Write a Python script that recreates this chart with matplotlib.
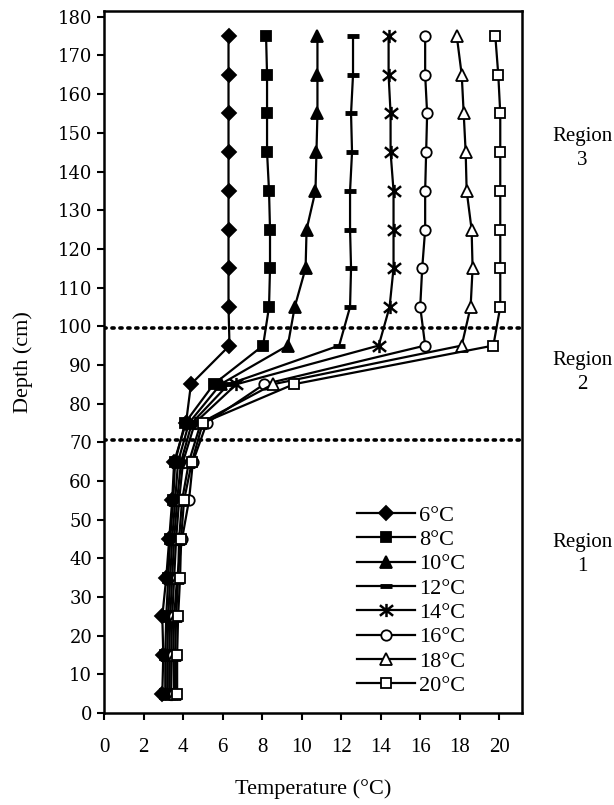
import numpy as np
import matplotlib
matplotlib.use('Agg')
import matplotlib.pyplot as plt
from matplotlib.path import Path
from matplotlib.ticker import MultipleLocator

# depth of each sensor (cm)
depth = [5, 15, 25, 35, 45, 55, 65, 75, 85, 95, 105, 115, 125, 135, 145, 155, 165, 175]

# temperature (deg C) at each depth, one list per heating setpoint
t6 = [2.95, 3.0, 2.95, 3.15, 3.3, 3.45, 3.55, 4.15, 4.4, 6.35, 6.3, 6.3, 6.3, 6.3, 6.3, 6.3, 6.3, 6.3]
t8 = [3.1, 3.1, 3.15, 3.25, 3.35, 3.5, 3.6, 4.1, 5.55, 8.05, 8.35, 8.4, 8.4, 8.35, 8.25, 8.25, 8.25, 8.2]
t10 = [3.2, 3.2, 3.25, 3.35, 3.45, 3.6, 3.75, 4.3, 5.9, 9.3, 9.65, 10.2, 10.25, 10.7, 10.75, 10.8, 10.8, 10.8]
t12 = [3.3, 3.3, 3.35, 3.45, 3.55, 3.7, 3.9, 4.45, 6.3, 11.9, 12.45, 12.5, 12.45, 12.45, 12.55, 12.5, 12.6, 12.6]
t14 = [3.4, 3.4, 3.45, 3.55, 3.65, 3.8, 4.0, 4.6, 6.7, 13.9, 14.45, 14.65, 14.65, 14.65, 14.5, 14.5, 14.4, 14.4]
t16 = [3.55, 3.5, 3.55, 3.7, 3.95, 4.3, 4.5, 5.2, 8.1, 16.25, 16.0, 16.1, 16.25, 16.25, 16.3, 16.35, 16.25, 16.25]
t18 = [3.6, 3.6, 3.65, 3.75, 3.8, 3.95, 4.3, 4.9, 8.55, 18.1, 18.55, 18.65, 18.6, 18.35, 18.3, 18.2, 18.1, 17.85]
t20 = [3.7, 3.7, 3.75, 3.85, 3.9, 4.05, 4.45, 5.0, 9.6, 19.7, 20.05, 20.05, 20.05, 20.05, 20.05, 20.05, 19.95, 19.8]

series = [t6, t8, t10, t12, t14, t16, t18, t20]
labels = ['6°C', '8°C', '10°C', '12°C', '14°C', '16°C', '18°C', '20°C']
region_bounds = [99.5, 70.5]
region_labels = ['Region\n3', 'Region\n2', 'Region\n1']
region_y = [146, 88, 41]

# Excel-style star: an X with a vertical stroke through it
star = Path([(-1, -0.8), (1, 0.8), (-1, 0.8), (1, -0.8), (0, -1), (0, 1)],
            [Path.MOVETO, Path.LINETO, Path.MOVETO, Path.LINETO, Path.MOVETO, Path.LINETO])

markers = ['D', 's', '^', '_', star, 'o', '^', 's']
filled = [True, True, True, True, True, False, False, False]
msizes = [7, 7.5, 8.5, 9, 9.5, 7.5, 8.5, 7.5]
medges = [1.3, 1.3, 1.3, 3.5, 1.8, 1.3, 1.3, 1.3]

fig = plt.figure(figsize=(6.14, 8.05), dpi=100)
ax = fig.add_axes([104 / 614, 1 - 713 / 805, (522 - 104) / 614, (713 - 11) / 805])

for s, lab, m, f, ms, me in zip(series, labels, markers, filled, msizes, medges):
    ax.plot(s, depth, color='black', lw=1.6, marker=m, markersize=ms,
            markerfacecolor='black' if f else 'white', markeredgecolor='black',
            markeredgewidth=me, label=lab)

for yb in region_bounds:
    ax.axhline(yb, color='black', lw=2.6, linestyle=(0, (0.6, 1.6)),
               dash_capstyle='round', zorder=1)

for txt, yy in zip(region_labels, region_y):
    ax.text(24.2, yy, txt, ha='center', va='center', fontsize=15,
            family='Liberation Serif', linespacing=1.35, clip_on=False)

ax.set_xlim(0, 21.15)
ax.set_ylim(0, 181.5)
ax.xaxis.set_major_locator(MultipleLocator(2))
ax.yaxis.set_major_locator(MultipleLocator(10))
ax.tick_params(direction='out', length=5, width=1.5, top=False, right=False)
ax.tick_params(axis='x', pad=13)
for lbl in ax.get_xticklabels():
    lbl.set_family('Liberation Serif')
    lbl.set_fontsize(15)
for lbl in ax.get_yticklabels():
    lbl.set_family('DejaVu Serif')
    lbl.set_fontsize(13)
for sp in ax.spines.values():
    sp.set_linewidth(1.8)

ax.set_xlabel('Temperature (°C)', family='Liberation Serif', fontsize=16, labelpad=16)
ax.set_ylabel('Depth (cm)', family='Liberation Serif', fontsize=16, labelpad=18)

ax.legend(loc='upper left', bbox_to_anchor=(0.605, 0.296), frameon=False,
          prop={'family': 'Liberation Serif', 'size': 16}, handlelength=2.6,
          handletextpad=0.2, labelspacing=0.17, borderpad=0, borderaxespad=0)

plt.savefig('out.png', dpi=100)
